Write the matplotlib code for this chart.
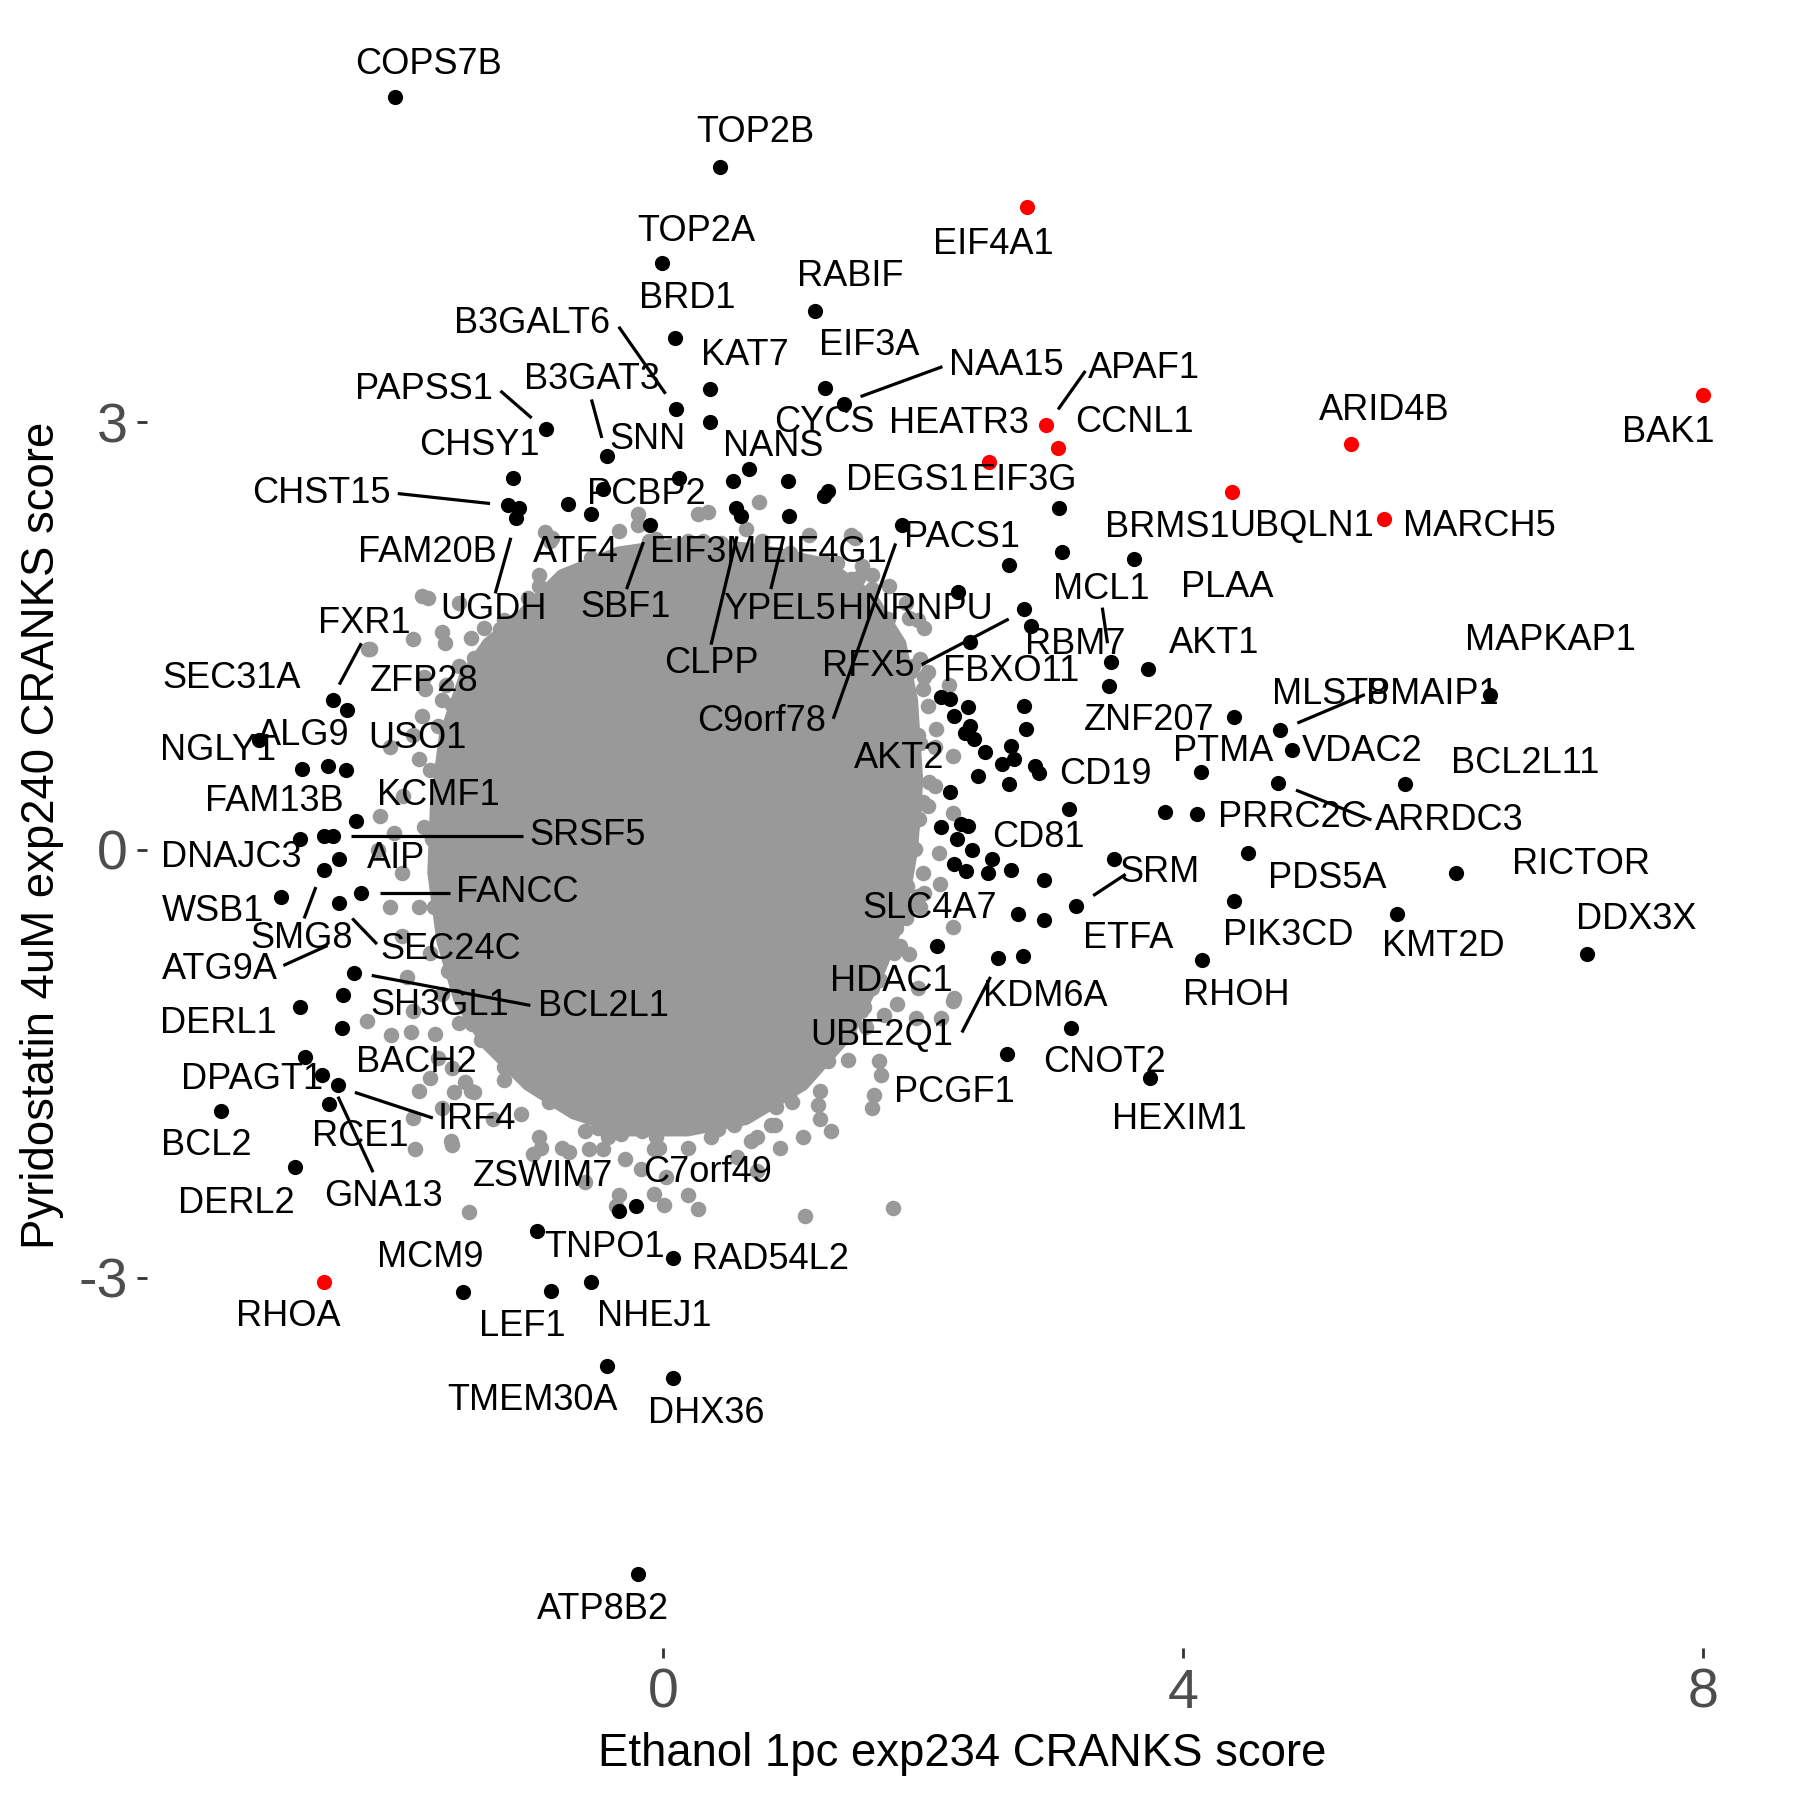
import matplotlib
matplotlib.use("Agg")
import matplotlib.pyplot as plt

plt.rcParams["font.family"] = ["Liberation Sans", "DejaVu Sans"]
plt.rcParams["axes.unicode_minus"] = False

GREY = "#999999"

# genes called as hits (black), grouped roughly by where they sit
hits_top = [(-2.06, 5.28), (0.44, 4.79), (-0.01, 4.12), (1.17, 3.78), (0.09, 3.59),
            (0.10, 3.09), (-0.90, 2.95), (-0.43, 2.76), (0.36, 3.23), (0.36, 3.00),
            (1.25, 3.24), (1.39, 3.13), (0.66, 2.67), (0.54, 2.59), (0.12, 2.61),
            (0.96, 2.59), (1.27, 2.52), (1.24, 2.48), (0.56, 2.40), (0.60, 2.34),
            (0.97, 2.34), (-0.46, 2.53), (-0.55, 2.36), (-0.10, 2.28), (-1.15, 2.61),
            (-1.19, 2.42), (-1.11, 2.40), (-1.13, 2.33), (-0.73, 2.43), (1.84, 2.28)]
hits_right = [(3.05, 2.40), (3.07, 2.09), (2.66, 2.00), (3.62, 2.04), (2.27, 1.81),
              (2.78, 1.69), (2.83, 1.57), (2.36, 1.46), (3.45, 1.32), (3.73, 1.27),
              (3.43, 1.15), (2.14, 1.07), (2.21, 1.06), (2.35, 1.00), (2.24, 0.94),
              (2.36, 0.87), (2.32, 0.82), (2.39, 0.78), (2.48, 0.69), (2.68, 0.73),
              (2.70, 0.64), (2.61, 0.60), (2.86, 0.59), (2.89, 0.54), (2.42, 0.52),
              (2.66, 0.46), (2.21, 0.41), (2.78, 1.01), (2.79, 0.85), (3.12, 0.29),
              (2.14, 0.16), (2.29, 0.18), (2.35, 0.17), (2.26, 0.08), (2.38, 0.00),
              (2.53, -0.06), (2.24, -0.10), (2.33, -0.15), (2.50, -0.16), (2.68, -0.14),
              (2.93, -0.21), (3.47, -0.06), (3.18, -0.39), (2.73, -0.45), (2.93, -0.49),
              (2.11, -0.67), (2.58, -0.76), (2.77, -0.74), (3.14, -1.25), (2.65, -1.43),
              (3.75, -1.60), (6.36, 1.09), (4.39, 0.93), (4.75, 0.84), (4.84, 0.70),
              (4.14, 0.55), (5.71, 0.46), (4.73, 0.47), (4.11, 0.25), (3.86, 0.27),
              (4.50, -0.02), (6.10, -0.16), (4.39, -0.36), (5.65, -0.45), (7.11, -0.73),
              (4.15, -0.77)]
hits_left = [(-2.54, 1.05), (-2.43, 0.98), (-3.11, 0.77), (-2.78, 0.57), (-2.58, 0.59),
             (-2.44, 0.56), (-2.36, 0.20), (-2.61, 0.10), (-2.54, 0.10), (-2.79, 0.08),
             (-2.49, -0.06), (-2.61, -0.14), (-2.32, -0.30), (-2.94, -0.33), (-2.49, -0.37),
             (-2.38, -0.86), (-2.46, -1.02), (-2.79, -1.10), (-2.47, -1.25), (-2.75, -1.45),
             (-2.62, -1.58), (-2.50, -1.65), (-2.57, -1.78), (-3.40, -1.83), (-2.83, -2.22)]
hits_bottom = [(-0.97, -2.67), (-1.54, -3.10), (-0.86, -3.09), (-0.55, -3.03), (-0.43, -3.62),
               (-0.34, -2.53), (-0.21, -2.50), (0.08, -2.86), (0.08, -3.70), (-0.19, -5.08)]

# highlighted genes (red)
red_genes = ["EIF4A1", "BAK1", "ARID4B", "UBQLN1", "MARCH5", "APAF1", "CCNL1", "HEATR3", "RHOA"]
red_x = [2.80, 8.00, 5.29, 4.38, 5.55, 2.95, 3.04, 2.51, -2.61]
red_y = [4.51, 3.19, 2.85, 2.51, 2.32, 2.98, 2.82, 2.72, -3.03]

# label placement (as laid out by the repel step)
labels = [("COPS7B", -1.80, 5.51), ("TOP2B", 0.71, 5.03), ("TOP2A", 0.26, 4.34),
          ("EIF4A1", 2.54, 4.25), ("RABIF", 1.44, 4.02), ("BRD1", 0.19, 3.87),
          ("B3GALT6", -1.01, 3.69), ("EIF3A", 1.59, 3.54), ("KAT7", 0.63, 3.47),
          ("NAA15", 2.64, 3.40), ("APAF1", 3.70, 3.38), ("PAPSS1", -1.84, 3.23),
          ("B3GAT3", -0.55, 3.30), ("CYCS", 1.24, 3.00), ("HEATR3", 2.28, 2.99),
          ("CCNL1", 3.63, 3.00), ("ARID4B", 5.55, 3.08), ("BAK1", 7.73, 2.93),
          ("SNN", -0.12, 2.88), ("CHSY1", -1.41, 2.84), ("NANS", 0.85, 2.83),
          ("DEGS1", 1.88, 2.59), ("EIF3G", 2.78, 2.59), ("CHST15", -2.63, 2.50),
          ("PCBP2", -0.13, 2.49), ("BRMS1", 3.88, 2.26), ("UBQLN1", 4.91, 2.27),
          ("MARCH5", 6.28, 2.27), ("PACS1", 2.30, 2.19), ("FAM20B", -1.81, 2.09),
          ("ATF4", -0.67, 2.09), ("EIF3M", 0.31, 2.09), ("EIF4G1", 1.24, 2.09),
          ("PLAA", 4.34, 1.84), ("MCL1", 3.37, 1.83), ("UGDH", -1.30, 1.69),
          ("SBF1", -0.29, 1.70), ("YPEL5", 0.90, 1.69), ("HNRNPU", 1.94, 1.69),
          ("FXR1", -2.30, 1.59), ("MAPKAP1", 6.83, 1.47), ("AKT1", 4.24, 1.45),
          ("RBM7", 3.17, 1.44), ("CLPP", 0.37, 1.31), ("RFX5", 1.58, 1.29),
          ("FBXO11", 2.68, 1.25), ("SEC31A", -3.32, 1.20), ("ZFP28", -1.84, 1.18),
          ("MLST8", 5.13, 1.09), ("PMAIP1", 5.92, 1.09), ("ZNF207", 3.74, 0.91),
          ("C9orf78", 0.76, 0.90), ("ALG9", -2.77, 0.80), ("USO1", -1.89, 0.78),
          ("NGLY1", -3.42, 0.70), ("VDAC2", 5.38, 0.69), ("PTMA", 4.31, 0.69),
          ("AKT2", 1.82, 0.64), ("BCL2L11", 6.63, 0.61), ("CD19", 3.40, 0.53),
          ("KCMF1", -1.73, 0.38), ("FAM13B", -2.99, 0.34), ("PRRC2C", 4.84, 0.23),
          ("ARRDC3", 6.05, 0.21), ("SRSF5", -0.58, 0.10), ("CD81", 2.89, 0.09),
          ("DNAJC3", -3.32, -0.05), ("AIP", -2.05, -0.06), ("RICTOR", 7.06, -0.10),
          ("SRM", 3.82, -0.16), ("PDS5A", 5.11, -0.20), ("FANCC", -1.12, -0.30),
          ("SLC4A7", 2.05, -0.41), ("WSB1", -3.46, -0.43), ("DDX3X", 7.49, -0.49),
          ("PIK3CD", 4.81, -0.60), ("SMG8", -2.78, -0.62), ("ETFA", 3.58, -0.62),
          ("KMT2D", 6.00, -0.68), ("SEC24C", -1.63, -0.70), ("ATG9A", -3.41, -0.84),
          ("HDAC1", 1.76, -0.92), ("RHOH", 4.41, -1.02), ("KDM6A", 2.94, -1.03),
          ("SH3GL1", -1.72, -1.09), ("BCL2L1", -0.46, -1.10), ("DERL1", -3.42, -1.22),
          ("UBE2Q1", 1.68, -1.30), ("BACH2", -1.90, -1.49), ("CNOT2", 3.40, -1.49),
          ("DPAGT1", -3.16, -1.61), ("PCGF1", 2.24, -1.70), ("IRF4", -1.43, -1.89),
          ("HEXIM1", 3.97, -1.89), ("RCE1", -2.33, -2.01), ("BCL2", -3.51, -2.07),
          ("C7orf49", 0.34, -2.26), ("ZSWIM7", -0.92, -2.29), ("GNA13", -2.15, -2.43),
          ("DERL2", -3.28, -2.48), ("TNPO1", -0.45, -2.79), ("MCM9", -1.79, -2.86),
          ("RAD54L2", 0.83, -2.87), ("RHOA", -2.88, -3.27), ("NHEJ1", -0.07, -3.27),
          ("LEF1", -1.08, -3.34), ("TMEM30A", -1.00, -3.86), ("DHX36", 0.33, -3.95),
          ("ATP8B2", -0.46, -5.33)]

# leader lines from label to point
segments = [((-0.34, 3.67), (0.02, 3.20)), ((-1.25, 3.22), (-1.01, 3.03)),
            ((-0.55, 3.16), (-0.47, 2.89)), ((1.52, 3.18), (2.15, 3.39)),
            ((3.25, 3.36), (3.04, 3.09)), ((-2.04, 2.50), (-1.33, 2.43)),
            ((-1.29, 1.80), (-1.17, 2.19)), ((-0.28, 1.83), (-0.15, 2.16)),
            ((0.37, 1.44), (0.57, 2.20)), ((0.83, 1.83), (0.93, 2.20)),
            ((1.31, 0.92), (1.79, 2.15)), ((3.38, 1.70), (3.42, 1.45)),
            ((1.99, 1.30), (2.66, 1.62)), ((-2.32, 1.45), (-2.49, 1.16)),
            ((-2.40, 0.10), (-1.08, 0.10)), ((-2.18, -0.30), (-1.64, -0.30)),
            ((-2.67, -0.26), (-2.76, -0.48)), ((-2.39, -0.48), (-2.20, -0.66)),
            ((-2.92, -0.81), (-2.58, -0.67)), ((-2.24, -0.88), (-1.02, -1.09)),
            ((-2.37, -1.70), (-1.77, -1.88)), ((-2.50, -1.73), (-2.23, -2.26)),
            ((3.56, -0.17), (3.31, -0.32)), ((2.30, -1.28), (2.52, -0.89)),
            ((4.88, 0.89), (5.40, 1.09)), ((4.87, 0.42), (5.45, 0.21))]

# all other genes: dense centre of the cloud, outlined
core_x = [-1.13, -0.78, -0.34, 0.19, 0.72, 1.25, 1.61, 1.83, 1.92, 1.96, 1.92, 1.83, 1.65, 1.43,
          1.08, 0.64, 0.19, -0.29, -0.69, -1.04, -1.35, -1.57, -1.70, -1.77, -1.75, -1.68,
          -1.53, -1.35]
core_y = [1.61, 1.93, 2.09, 2.16, 2.11, 2.01, 1.77, 1.45, 1.05, 0.48, 0.00, -0.48, -0.89, -1.29,
          -1.65, -1.89, -1.97, -1.97, -1.85, -1.65, -1.37, -1.05, -0.64, -0.16, 0.32, 0.81,
          1.21, 1.45]

# ...and the scattered genes around it
cloud_edge = [(-0.34, 2.24), (-0.19, 2.28), (-0.11, 2.17), (0.07, 2.09), (0.19, 2.17),
              (0.31, 2.17), (0.64, 2.25), (0.76, 2.17), (0.99, 2.01), (1.34, 2.01),
              (1.45, 1.77), (1.61, 1.93), (1.74, 1.85), (1.87, 1.73), (1.96, 1.61),
              (1.70, 1.57), (-0.47, 2.01), (-0.60, 1.93), (-0.87, 2.17), (-0.95, 1.93),
              (-1.04, 1.77), (-1.22, 1.61), (-1.48, 1.49), (-1.81, 1.77), (-1.70, 1.53),
              (-1.57, 1.29), (-1.31, 1.29), (0.74, 2.44), (1.48, 2.19), (0.27, 2.36),
              (-0.19, 2.36), (1.12, 2.21), (1.24, 2.02), (1.61, 1.83), (1.48, 1.72),
              (0.35, 2.37), (-0.91, 2.23), (-0.85, 2.19), (1.45, 2.21), (-0.54, 2.03),
              (-0.65, 1.88), (0.19, 1.94), (0.34, 1.88), (0.58, 1.88), (1.01, 1.88),
              (1.28, 1.98), (1.53, 1.99), (1.50, 1.91), (-0.72, 1.74), (-0.05, 1.74),
              (0.28, 1.77), (0.68, 1.67), (1.31, 1.63), (-1.38, 1.56), (-1.12, 1.48),
              (-1.30, 1.46), (-1.85, 1.78), (-1.57, 1.73), (-1.68, 1.45), (-2.27, 1.41),
              (-1.92, 1.48), (-1.83, 1.13), (-1.67, 1.16), (-1.85, 0.94), (-1.73, 0.87),
              (-2.18, 0.24), (-2.00, 0.38), (-1.88, 0.64), (-1.84, 1.21), (-1.70, 1.05),
              (-1.57, 0.93), (-1.92, 0.81), (-2.10, 0.72), (-1.79, 0.56), (-1.62, 0.48),
              (-1.84, 0.16), (-2.19, 0.00), (-2.01, -0.16), (-2.10, -0.40), (-1.88, -0.40),
              (-2.01, -0.60), (-1.79, -0.72), (-1.97, -0.89), (-1.70, -1.01), (-1.92, -1.13),
              (-1.57, -1.21), (-1.75, -1.29), (-1.40, -1.33), (-1.62, -1.53), (-1.48, -1.69),
              (-1.22, -1.61), (-1.88, -1.69), (-1.70, -1.81), (-1.31, -1.89), (-1.09, -1.85),
              (-0.95, -2.01), (-2.25, 1.41), (-2.07, 0.12), (-1.52, -1.63), (-1.63, -2.04),
              (-1.92, -1.88), (-2.28, -1.20), (-2.09, -1.30), (-1.94, -1.28), (-1.73, -1.46),
              (-1.79, -1.60), (-1.61, -1.70), (-1.45, -1.70), (-0.78, -2.09), (-0.60, -1.97),
              (-0.42, -2.01), (-0.29, -2.17), (-0.16, -1.97), (-0.03, -2.09), (0.19, -2.09),
              (0.37, -2.01), (0.55, -1.93), (0.72, -2.01), (0.90, -2.09), (1.08, -2.01),
              (1.21, -1.89), (0.72, -2.25), (0.19, -2.42), (0.02, -2.29), (-0.34, -2.42),
              (-0.60, -2.33), (-1.49, -2.54), (-0.36, -2.50), (-0.07, -2.41), (0.01, -2.49),
              (0.27, -2.52), (1.09, -2.57), (1.77, -2.51), (1.29, -1.97), (0.97, -1.71),
              (0.86, -1.93), (0.68, -2.04), (0.57, -2.15), (-0.07, -2.10), (-0.32, -1.99),
              (-0.46, -2.10), (-0.17, -2.24), (-1.00, -2.13), (-0.94, -2.09), (-0.72, -2.12),
              (-0.57, -2.10), (-1.62, -2.07), (-1.91, -2.10), (0.83, -1.93), (1.19, -1.79),
              (1.62, -1.72), (1.68, -1.58), (1.66, -1.48), (2.23, -1.06), (1.95, -1.18),
              (1.80, -1.08), (1.89, -0.73), (1.68, -0.59), (1.98, -0.40), (2.23, -0.54),
              (1.83, -0.19), (2.13, -0.24), (2.01, 1.56), (1.71, 1.44), (1.98, 1.34),
              (2.04, 1.25), (1.77, 1.13), (1.89, 1.01), (2.04, 1.01), (1.77, 0.87),
              (2.10, 0.85), (1.71, 0.43), (1.92, 0.19), (2.23, 0.26), (2.04, 0.31),
              (1.62, 0.61), (1.43, 1.67), (1.65, 1.53), (1.89, 1.63), (2.01, 1.21),
              (2.20, 1.16), (2.23, 0.66), (2.09, 0.45), (2.00, 0.34), (1.94, 0.01),
              (2.12, -0.02), (2.00, -0.16), (2.01, -0.30), (1.91, -0.38), (1.67, -0.43),
              (1.79, -0.55), (1.82, -0.67), (1.67, -0.74), (1.48, -0.88), (1.67, -0.91),
              (2.24, -1.04), (2.14, -1.18), (1.70, -1.16), (1.56, -1.24), (1.30, -1.27),
              (1.21, -1.40), (1.42, -1.47), (1.78, 1.45), (1.92, 1.29), (2.00, 1.13),
              (1.87, 1.05), (1.96, 0.81), (2.09, 0.72), (1.87, 0.64), (2.05, 0.48),
              (1.78, 0.40), (1.96, 0.32), (1.87, 0.16), (1.83, -0.16), (1.96, -0.32),
              (1.70, -0.40), (1.87, -0.48), (1.61, -0.56), (1.78, -0.72), (1.47, -0.81),
              (1.61, -0.97), (1.34, -1.05), (1.52, -1.13), (1.43, -1.29), (1.61, -1.81),
              (1.30, -1.37), (1.08, -1.53), (1.21, -1.69), (0.99, -1.77), (1.96, -0.97),
              (-0.95, 1.85), (-0.55, 2.05), (-0.05, 2.18), (0.45, 2.15), (0.98, 2.08),
              (1.45, 1.90), (1.73, 1.62), (1.90, 1.25), (1.98, 0.75), (1.97, 0.22),
              (1.88, -0.25), (1.75, -0.70), (1.55, -1.10), (1.27, -1.48), (0.87, -1.80),
              (0.42, -1.96), (-0.05, -2.01), (-0.50, -1.95), (-0.88, -1.77), (-1.22, -1.52),
              (-1.47, -1.22), (-1.65, -0.85), (-1.76, -0.40), (-1.78, 0.08), (-1.72, 0.57),
              (-1.62, 1.02), (-1.45, 1.35), (-1.25, 1.55)]

hits = hits_top + hits_right + hits_left + hits_bottom
hit_x = [p[0] for p in hits]
hit_y = [p[1] for p in hits]
bg_x = [p[0] for p in cloud_edge]
bg_y = [p[1] for p in cloud_edge]

fig = plt.figure(figsize=(18, 18), dpi=100)
ax = fig.add_axes([0.0816, 0.0842, 0.9056, 0.903])

ax.fill(core_x, core_y, color=GREY, lw=8, joinstyle="round", zorder=1)
ax.scatter(bg_x, bg_y, s=125, c=GREY, linewidths=0, zorder=2)
ax.scatter(hit_x, hit_y, s=120, c="black", linewidths=0, zorder=3)
ax.scatter(red_x, red_y, s=120, c="red", linewidths=0, zorder=4)

for (x0, y0), (x1, y1) in segments:
    ax.plot([x0, x1], [y0, y1], color="black", lw=2.3, solid_capstyle="butt", zorder=5)

for name, lx, ly in labels:
    ax.text(lx, ly, name, fontsize=26, ha="center", va="center", color="black", zorder=6)

ax.set_xlim(-3.97, 8.57)
ax.set_ylim(-5.6, 5.8)
ax.set_xticks([0, 4, 8])
ax.set_yticks([-3, 0, 3])
for sp in ax.spines.values():
    sp.set_visible(False)
ax.tick_params(length=7, width=2, color="#333333", labelcolor="#4D4D4D",
               labelsize=40, pad=7)

fig.text(0.5344, 0.0189, "Ethanol 1pc exp234 CRANKS score", fontsize=32.8,
         ha="center", va="baseline")
fig.text(0.0233, 0.5357, "Pyridostatin 4uM exp240 CRANKS score", fontsize=32.8,
         rotation=90, ha="center", va="center")

fig.savefig("out.png", dpi=100)
